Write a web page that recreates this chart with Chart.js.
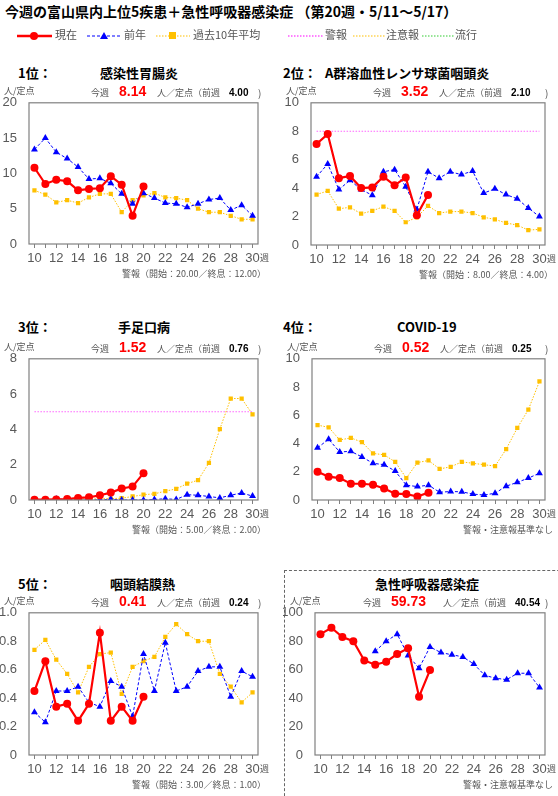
<!DOCTYPE html>
<html><head><meta charset="utf-8">
<script src="https://cdn.jsdelivr.net/npm/chart.js@4/dist/chart.umd.min.js"></script>
<style>
body{margin:0;width:558px;height:796px;background:#fff;position:relative;font-family:"Noto Sans CJK JP","Noto Sans",sans-serif;overflow:hidden}
.t{position:absolute;white-space:nowrap;line-height:1}
canvas{position:absolute}
</style></head><body>
<script>
const weeks=[10,11,12,13,14,15,16,17,18,19,20,21,22,23,24,25,26,27,28,29,30];
const p1Cur=[10.8,8.5,9.1,8.9,7.6,7.8,7.9,9.6,8.4,4.0,8.14];
const p1Prev=[13.4,15.0,13.0,12.1,10.9,9.2,9.3,8.6,7.1,5.7,7.2,6.5,5.8,5.7,5.2,5.7,6.3,6.5,4.8,5.5,4.0];
const p1Avg=[7.6,7.0,5.9,6.2,5.8,6.6,7.1,7.1,4.5,6.2,6.9,7.2,6.6,6.5,6.2,5.0,4.5,4.5,4.0,3.5,3.5];
const p2Cur=[7.1,7.8,4.7,4.85,4.0,4.05,4.8,4.2,4.75,2.1,3.52];
const p2Prev=[4.8,5.7,3.9,4.55,3.9,3.5,5.15,5.3,4.1,2.5,5.15,4.7,5.15,4.95,5.2,3.65,3.95,3.55,3.25,2.6,2.0];
const p2Avg=[3.55,3.8,2.55,2.65,2.2,2.4,2.7,2.4,1.6,1.95,2.75,2.25,2.35,2.35,2.25,1.95,1.8,1.55,1.4,1.05,1.1];
const p3Cur=[0.02,0.02,0.03,0.05,0.12,0.15,0.27,0.42,0.65,0.76,1.52];
const p3Prev=[0.02,0,0.05,0.03,0.02,0,0,0.05,0,0,0,0.03,0.07,0.03,0.3,0.27,0.2,0.12,0.27,0.4,0.22];
const p3Avg=[0,0,0,0.02,0.03,0.05,0.07,0.08,0.1,0.2,0.3,0.35,0.5,0.63,0.93,1.12,2.1,4.02,5.75,5.75,4.85];
const p4Cur=[2.0,1.65,1.55,1.15,1.15,1.08,0.82,0.45,0.42,0.25,0.52];
const p4Prev=[3.7,4.3,3.4,3.45,3.05,2.6,2.5,2.05,1.05,0.95,1.05,0.55,0.6,0.58,0.42,0.35,0.48,0.98,1.25,1.55,1.9];
const p4Avg=[5.3,5.15,4.25,4.4,4.1,3.3,3.2,2.7,1.55,2.65,2.8,2.2,2.35,2.7,2.6,2.5,2.4,3.6,5.1,6.4,8.4];
const p5Cur=[0.45,0.66,0.34,0.36,0.24,0.36,0.86,0.24,0.34,0.24,0.41];
const p5Prev=[0.30,0.23,0.45,0.45,0.48,0.37,0.34,0.52,0.48,0.27,0.71,0.45,0.79,0.45,0.48,0.59,0.62,0.62,0.41,0.59,0.55];
const p5Avg=[0.74,0.81,0.67,0.57,0.44,0.62,0.71,0.72,0.43,0.62,0.66,0.69,0.83,0.92,0.85,0.80,0.80,0.57,0.48,0.37,0.44];
const p6Cur=[85,89.5,83,80,66.5,63.5,65.5,71,75,41,59.73];
const p6Prev=[null,null,null,null,null,73,80,85,70,61,76,72,70.5,69,64,56,54,53,57.5,57.5,47.5];

function txt(s,x,y,css){const d=document.createElement('div');d.className='t';d.textContent=s;d.style.left=x+'px';d.style.top=y+'px';if(css)d.style.cssText+=css;document.body.appendChild(d);return d;}

txt('今週の富山県内上位5疾患＋急性呼吸器感染症 （第20週・5/11～5/17）',5,4,'font-size:14px;font-weight:bold;color:#000');
const leg=document.createElement('canvas');leg.width=558;leg.height=20;leg.style.left='0px';leg.style.top='26px';document.body.appendChild(leg);
{const c=leg.getContext('2d');
 function ln(x1,x2,col,dash,w){c.save();c.strokeStyle=col;c.lineWidth=w;c.setLineDash(dash);c.beginPath();c.moveTo(x1,10);c.lineTo(x2,10);c.stroke();c.restore();}
 ln(17,52,'#ff0000',[],2.5);c.fillStyle='#ff0000';c.beginPath();c.arc(34,10,4,0,7);c.fill();
 ln(87,120,'#0000ff',[3,2],1.2);c.fillStyle='#0000ff';c.beginPath();c.moveTo(104,6);c.lineTo(108,13);c.lineTo(100,13);c.fill();
 ln(156,190,'#ffc000',[1.5,1.5],1.2);c.fillStyle='#ffc000';c.fillRect(169,6,7,7);
 ln(288,323,'#ff00ff',[1.5,1.5],1.2);ln(353,385,'#ffc000',[1.5,1.5],1.2);ln(422,455,'#33cc33',[1.5,1.5],1.2);}
txt('現在',55,29,'font-size:11px;color:#555');txt('前年',124,29,'font-size:11px;color:#555');txt('過去10年平均',193,29,'font-size:11px;color:#555');
txt('警報',325,29,'font-size:11px;color:#555');txt('注意報',386,29,'font-size:11px;color:#555');txt('流行',455,29,'font-size:11px;color:#555');

const sep=document.createElement('div');sep.style.cssText='position:absolute;left:284px;top:570px;width:300px;height:240px;border-left:1px dashed #666;border-top:1px dashed #666';document.body.appendChild(sep);

const boxPlugin={id:'box',afterDraw(ch){const a=ch.chartArea,c=ch.ctx;c.save();c.strokeStyle='#808080';c.lineWidth=1.2;c.strokeRect(a.left,a.top,a.right-a.left,a.bottom-a.top);c.restore();}};

function panel(o){
  const cl=o.pl-32, ct=o.pt-8, w=o.pr-cl+16, h=o.pb+22-ct;
  const cv=document.createElement('canvas');
  const wrap=document.createElement('div');wrap.style.cssText=`position:absolute;left:${cl}px;top:${ct}px;width:${w}px;height:${h}px`;
  cv.style.left='0px';cv.style.top='0px';wrap.appendChild(cv);document.body.appendChild(wrap);
  const ds=[];
  if(o.warn!=null)ds.push({data:weeks.map(()=>o.warn),borderColor:'#ff66ff',borderWidth:1.2,borderDash:[1.5,1.5],pointRadius:0,order:5});
  if(o.avg)ds.push({data:o.avg,borderColor:'#ffc000',borderWidth:1,borderDash:[1.5,1.5],pointStyle:'rect',pointRadius:3,backgroundColor:'#ffc000',pointBorderWidth:0,order:3});
  ds.push({data:o.prev,borderColor:'#0000ff',borderWidth:1,borderDash:[3,2],pointStyle:'triangle',pointRadius:4,backgroundColor:'#0000ff',pointBorderWidth:0,order:2,spanGaps:false});
  ds.push({data:o.cur,borderColor:'#ff0000',borderWidth:2.2,pointStyle:'circle',pointRadius:4,backgroundColor:'#ff0000',pointBorderWidth:0,order:1});
  new Chart(cv,{type:'line',data:{labels:weeks,datasets:ds},plugins:[boxPlugin],
   options:{responsive:true,maintainAspectRatio:false,animation:false,layout:{padding:{top:8,right:16,left:0,bottom:0}},
    plugins:{legend:{display:false},tooltip:{enabled:false}},
    scales:{
     x:{offset:true,afterFit(s){s.height=22;},grid:{display:true,drawOnChartArea:false,tickLength:4,color:'#808080'},border:{display:false},
        ticks:{autoSkip:false,maxRotation:0,padding:3,color:'#595959',font:{size:13,family:'Liberation Sans'},callback:(v,i)=>weeks[i]%2===0?String(weeks[i]):''}},
     y:{min:0,max:o.max,afterFit(s){s.width=32;},grid:{display:false},border:{display:false},
        ticks:{stepSize:o.step,padding:4,color:'#595959',font:{size:13,family:'Liberation Sans'}}}}}});
  txt('週',o.pr+2,o.pb+9,'font-size:9px;color:#555');
  txt('人/定点',o.pl-25,o.pt-13,'font-size:9px;color:#555');
  const sh=o.val.length>4?-14:0;
  txt('今週',o.pl+62+sh,o.pt-11,'font-size:9px;color:#555');
  txt(o.val,o.pl+90+sh,o.pt-15,'font-size:14px;font-weight:bold;color:#ff0000;font-family:Liberation Sans');
  txt('人／定点（前週',o.pl+128,o.pt-11,'font-size:9px;color:#555');
  txt(o.pv,o.pl+200,o.pt-11,'font-size:10px;font-weight:bold;color:#000;font-family:Liberation Sans');
  txt(')',o.pr,o.pt-11,'font-size:10px;color:#555');
  const f=txt(o.foot,0,o.pb+25,'font-size:9px;color:#555');f.style.left=(o.pr+8-f.offsetWidth)+'px';
}
function title(r,name,x,y,nx){txt(r,x,y,'font-size:13px;font-weight:bold');txt(name,nx,y,'font-size:13px;font-weight:bold');}

title('1位：','感染性胃腸炎',18,66,100);
title('2位：','A群溶血性レンサ球菌咽頭炎',283,66,325);
title('3位：','手足口病',18,320,118);
title('4位：','COVID-19',283,320,397);
title('5位：','咽頭結膜熱',18,577,110);
txt('急性呼吸器感染症',375,577,'font-size:13px;font-weight:bold');

panel({pl:29,pr:258,pt:99,pb:244,max:20,step:5,cur:p1Cur,prev:p1Prev,avg:p1Avg,warn:null,val:'8.14',pv:'4.00',foot:'警報（開始：20.00／終息：12.00）'});
panel({pl:311,pr:545,pt:99,pb:245,max:10,step:2,cur:p2Cur,prev:p2Prev,avg:p2Avg,warn:8,val:'3.52',pv:'2.10',foot:'警報（開始：8.00／終息：4.00）'});
panel({pl:29,pr:258,pt:355,pb:500,max:8,step:2,cur:p3Cur,prev:p3Prev,avg:p3Avg,warn:5,val:'1.52',pv:'0.76',foot:'警報（開始：5.00／終息：2.00）'});
panel({pl:312,pr:545,pt:355,pb:500,max:10,step:2,cur:p4Cur,prev:p4Prev,avg:p4Avg,warn:null,val:'0.52',pv:'0.25',foot:'警報・注意報基準なし'});
panel({pl:29,pr:258,pt:609,pb:755,max:1,step:0.2,cur:p5Cur,prev:p5Prev,avg:p5Avg,warn:null,val:'0.41',pv:'0.24',foot:'警報（開始：3.00／終息：1.00）'});
panel({pl:315,pr:545,pt:609,pb:755,max:100,step:20,cur:p6Cur,prev:p6Prev,avg:null,warn:null,val:'59.73',pv:'40.54',foot:'警報・注意報基準なし'});
</script>
</body></html>
